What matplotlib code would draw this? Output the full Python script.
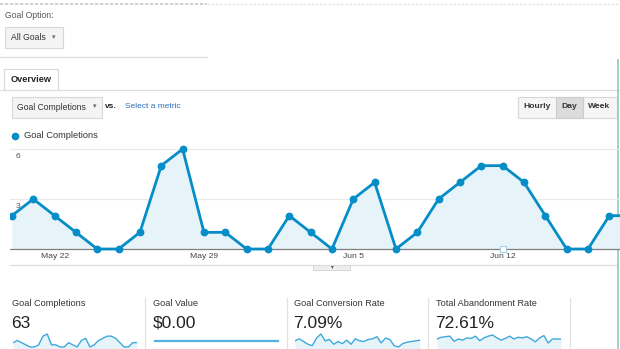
import matplotlib.pyplot as plt
from matplotlib.patches import Rectangle

plt.rcParams['font.family'] = ['Liberation Sans', 'DejaVu Sans']

W, H = 620, 349

# daily goal completions, May 20 - Jun 18
completions = [2, 3, 2, 1, 0, 0, 1, 5, 6, 1, 1, 0, 0, 2, 1,
               0, 3, 4, 0, 1, 3, 4, 5, 5, 4, 2, 0, 0, 2, 2]
date_ticks = [2, 9, 16, 23]
date_labels = ['May 22', 'May 29', 'Jun 5', 'Jun 12']
y_ticks = [3, 6]

conv_rate = [6.5, 8.0, 6.0, 4.0, 3.0, 8.5, 11.5, 6.5, 7.5, 4.0,
             6.0, 4.5, 7.0, 4.0, 8.0, 6.5, 6.0, 7.5, 8.0, 9.5,
             5.0, 8.5, 7.5, 3.0, 2.0, 4.5, 5.5, 6.0, 6.5, 7.0]
abandon_rate = [72, 75, 76, 77, 68, 72, 70, 74, 73, 77,
                69, 74, 77, 79, 74, 70, 73, 77, 72, 75,
                74, 76, 72, 67, 74, 78, 65, 72, 72, 72]

card_titles = ['Goal Completions', 'Goal Value', 'Goal Conversion Rate', 'Total Abandonment Rate']
card_values = ['63', '$0.00', '7.09%', '72.61%']

BLUE = '#058dc7'
FILL = '#e6f3f9'
TXT = '#333333'

fig = plt.figure(figsize=(W / 100, H / 100), dpi=100)


def px_axes(x0, y0, x1, y1, z=2):
    return fig.add_axes([x0 / W, 1 - y1 / H, (x1 - x0) / W, (y1 - y0) / H], zorder=z)


# page furniture drawn in pixel coordinates
ui = fig.add_axes([0, 0, 1, 1], zorder=0)
ui.set_xlim(0, W)
ui.set_ylim(H, 0)
ui.axis('off')

ui.plot([0, 207], [4, 4], color='#c8c8c8', lw=1.2, ls=(0, (2, 1)))
ui.plot([207, W], [4, 4], color='#e6e6e6', lw=1.0, ls=(0, (2, 1)))
ui.text(5, 15, 'Goal Option:', fontsize=6.2, color='#555555', va='center')
ui.add_patch(Rectangle((5, 27), 58, 21, fc='#f4f4f4', ec='#d8d8d8', lw=0.8))
ui.text(11, 38, 'All Goals', fontsize=6.2, color=TXT, va='center')
ui.text(54, 38, '\u25be', fontsize=5, color='#666666', va='center', ha='center')
ui.plot([0, 207], [57, 57], color='#dddddd', lw=0.9)

# overview tab
ui.add_patch(Rectangle((4, 69), 54, 21, fc='white', ec='#d8d8d8', lw=0.8))
ui.plot([0, W], [90, 90], color='#dddddd', lw=0.9)
ui.text(11, 80, 'Overview', fontsize=6.6, color='#222222', fontweight='bold', va='center')

# metric selector
ui.add_patch(Rectangle((12, 97), 90, 21, fc='#f4f4f4', ec='#d8d8d8', lw=0.8))
ui.text(17, 107, 'Goal Completions', fontsize=6.2, color=TXT, va='center')
ui.text(95, 107, '\u25be', fontsize=5, color='#666666', va='center', ha='center')
ui.text(105, 106, 'vs.', fontsize=6.0, color='#222222', fontweight='bold', va='center')
ui.text(125, 107, 'Select a metric', fontsize=6.0, color='#2a6ebb', va='center')

# hourly / day / week buttons
ui.add_patch(Rectangle((518, 97), 99, 21, fc='#f6f6f6', ec='#d8d8d8', lw=0.8))
ui.add_patch(Rectangle((556, 97), 27, 21, fc='#dcdcdc', ec='#cccccc', lw=0.8))
for label, cx in zip(['Hourly', 'Day', 'Week'], [537, 569, 599]):
    ui.text(cx, 107, label, fontsize=6.1, color='#333333', fontweight='bold',
            ha='center', va='center')

# legend
ui.plot([15], [136], marker='o', ms=4.5, color=BLUE)
ui.text(24, 136, 'Goal Completions', fontsize=6.7, color=TXT, va='center')

# scroll strip under the chart
ui.plot([10, 618], [265, 265], color='#dddddd', lw=0.9)
ui.add_patch(Rectangle((313, 265), 37, 5, fc='#eeeeee', ec='#d0d0d0', lw=0.6))
ui.text(332, 266.5, '\u25be', fontsize=4, color='#555555', ha='center', va='center')

# right edge frame line
ui.plot([618, 618], [60, H], color='#8ccbbd', lw=1.2)

# main line chart: 0 at y=249px, 6 at y=149px
ppu = (249 - 149) / 6
ax = px_axes(10, 140, 620, 253, z=3)
ax.patch.set_alpha(0)
ax.set_xlim(-0.09, 28.5)
ax.set_ylim(-(253 - 249) / ppu, 6 + (149 - 140) / ppu)
for s in ax.spines.values():
    s.set_visible(False)
ax.set_xticks([])
ax.set_yticks([])
for yv in y_ticks:
    ax.axhline(yv, color='#e9e9e9', lw=0.8, zorder=0)
    ax.text(0.01, yv - 0.42, str(yv), transform=ax.get_yaxis_transform(),
            fontsize=6.0, color='#555555', va='center')
days = list(range(len(completions)))
ax.fill_between(days, 0, completions, color=FILL, zorder=1, lw=0)
ax.axhline(0, color='#808080', lw=0.9, zorder=2)
ax.plot(days, completions, color=BLUE, lw=2.0, marker='o', ms=4.6, zorder=3)
ax.plot([23], [0], marker='s', ms=4.5, mfc='white', mec='#a6cfe6', mew=0.8, zorder=4)
for d, lab in zip(date_ticks, date_labels):
    ax.text(d, -0.42, lab, fontsize=6.1, color='#444444', ha='center', va='center',
            clip_on=False)

# scorecards
card_x = [12, 153, 294, 436]
dividers = [145, 287, 428, 570]
for x in dividers:
    ui.plot([x, x], [298, H], color='#e2e2e2', lw=0.9)
for x, t, v in zip(card_x, card_titles, card_values):
    ui.text(x, 304, t, fontsize=6.6, color=TXT, va='center')
    ui.text(x - 0.5, 323, v, fontsize=12.5, color='#222222', va='center')


def spark(x0, x1, vals, ytop, ybot):
    sa = px_axes(x0, 330, x1, H, z=3)
    sa.axis('off')
    lo, hi = min(vals), max(vals)
    sc = (ybot - ytop) / (hi - lo)
    sa.set_ylim(lo - (H - ybot) / sc, hi + (ytop - 330) / sc)
    xs = list(range(len(vals)))
    sa.set_xlim(0, len(vals) - 1)
    sa.fill_between(xs, sa.get_ylim()[0], vals, color=FILL, lw=0)
    sa.plot(xs, vals, color='#3ea8db', lw=1.0)


spark(13, 137, completions, 334, 347)
spark(295, 420, conv_rate, 334, 347)
spark(437, 561, abandon_rate, 335, 343)
ui.plot([155, 278], [340.5, 340.5], color='#52b3e0', lw=1.6)

fig.savefig('out.png', dpi=100)
